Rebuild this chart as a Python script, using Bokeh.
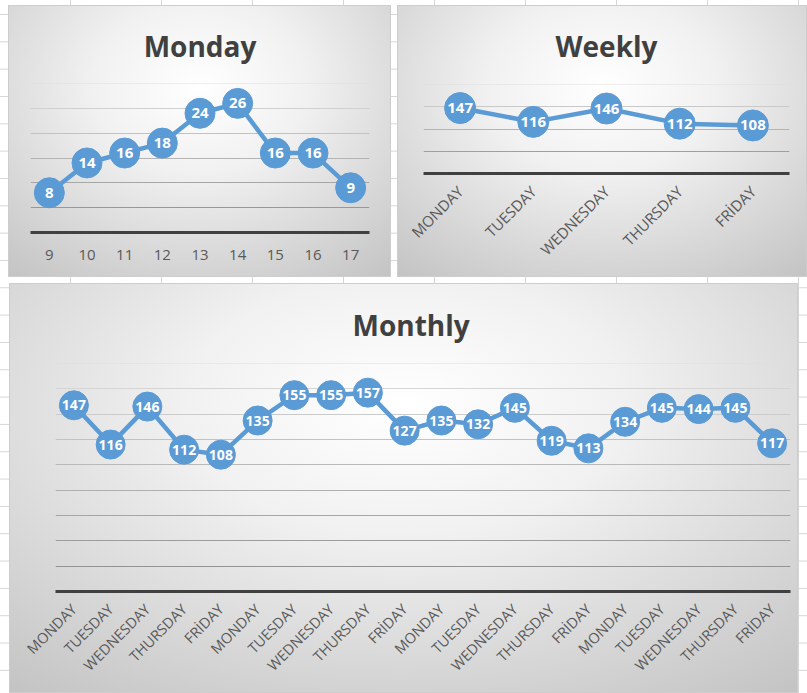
from bokeh.plotting import figure
from bokeh.layouts import column, row
from bokeh.models import Range1d, FixedTicker
from bokeh.embed import file_html
from bokeh.resources import INLINE
from bokeh.core.properties import value
import math

# ---- data -------------------------------------------------------------
hours = [9, 10, 11, 12, 13, 14, 15, 16, 17]
monday_counts = [8, 14, 16, 18, 24, 26, 16, 16, 9]

week_days = ["MONDAY", "TUESDAY", "WEDNESDAY", "THURSDAY", "FRİDAY"]
weekly_counts = [147, 116, 146, 112, 108]

monthly_days = week_days * 4
monthly_counts = [147, 116, 146, 112, 108, 135, 155, 155, 157, 127,
                  135, 132, 145, 119, 113, 134, 145, 144, 145, 117]

monday_grid = [5, 10, 15, 20, 25, 30]
weekly_grid = [50, 100, 150, 200]
monthly_grid = [20, 40, 60, 80, 100, 120, 140, 160, 180]

# ---- styling -----------------------------------------------------------
BLUE = "#5B9BD5"
FONT = "Open Sans"
PANEL_CSS = {
    "background": "radial-gradient(ellipse 80% 90% at 50% 30%, #ffffff 0%, "
                  "#f1f1f1 35%, #d8d8d8 70%, #c3c3c3 100%)",
    "box-shadow": "inset 0 0 0 1px #cdcdcd",
}


def gray(frac):
    dark, light = 0x8A, 0xDE
    g = int(round(dark + (light - dark) * frac))
    return "#%02x%02x%02x" % (g, g, g)


def panel(title, width, height, x_range, y_top, grid, borders, margin,
          title_standoff, title_align="center", title_offset=0):
    left, right, top, bottom = borders
    p = figure(width=width, height=height, x_range=x_range,
               y_range=Range1d(0, y_top), output_backend="svg",
               toolbar_location=None, min_border_left=left,
               min_border_right=right, min_border_top=top,
               min_border_bottom=bottom, margin=margin,
               border_fill_color=None, background_fill_color=None,
               outline_line_color=None, styles=PANEL_CSS)
    # each chart keeps its own frame instead of lining up with its neighbour
    if "frame_align" in p.properties():
        p.frame_align = False
    p.title.text = title
    p.title.align = title_align
    p.title.text_font = FONT
    p.title.text_font_style = "bold"
    p.title.text_font_size = "28px"
    p.title.text_color = "#404040"
    p.title.standoff = title_standoff
    p.title.offset = title_offset
    p.xgrid.visible = False
    p.ygrid.visible = False
    p.yaxis.visible = False
    p.hspan(y=grid, line_width=1,
            line_color=[gray(v / y_top) for v in grid])
    ax = p.xaxis[0]
    ax.axis_line_width = 3
    ax.axis_line_color = "#404040"
    ax.major_tick_line_color = None
    ax.minor_tick_line_color = None
    ax.major_label_text_font = FONT
    ax.major_label_text_color = "#595959"
    return p


def series(p, xs, ys, size, font_size):
    p.line(xs, ys, line_width=4.5, line_color=BLUE)
    p.scatter(xs, ys, size=size, fill_color=BLUE, line_color=BLUE)
    p.text(xs, ys, text=[str(v) for v in ys], text_color="white",
           text_font=value(FONT), text_font_style="bold",
           text_font_size=font_size, text_align="center",
           text_baseline="middle")


# ---- Monday: hourly counts ---------------------------------------------
p1 = panel("Monday", 383, 272, Range1d(hours[0] - 0.5, hours[-1] + 0.5),
           30, monday_grid, (22, 22, 78, 45), (5, 0, 0, 8), 38)
p1.xaxis.ticker = FixedTicker(ticks=hours)
p1.xaxis.major_label_text_font_size = "15px"
p1.xaxis.major_label_standoff = 11
series(p1, hours, monday_counts, 30, "15px")

# ---- Weekly: daily totals ----------------------------------------------
wx = list(range(len(week_days)))
p2 = panel("Weekly", 410, 272, Range1d(-0.5, len(week_days) - 0.5),
           200, weekly_grid, (26, 18, 79, 104), (5, 0, 0, 6), 39)
p2.xaxis.ticker = FixedTicker(ticks=wx)
p2.xaxis.major_label_overrides = {i: d for i, d in zip(wx, week_days)}
p2.xaxis.major_label_orientation = math.pi / 4
p2.xaxis.major_label_text_font_size = "15px"
p2.xaxis.major_label_standoff = 9
series(p2, wx, weekly_counts, 31, "15px")

# ---- Monthly: daily totals over four weeks -----------------------------
mx = list(range(len(monthly_days)))
p3 = panel("Monthly", 789, 410, Range1d(-0.5, len(monthly_days) - 0.5),
           180, monthly_grid, (46, 8, 80, 102), (6, 0, 0, 9), 40,
           title_align="left", title_offset=297)
p3.xaxis.ticker = FixedTicker(ticks=mx)
p3.xaxis.major_label_overrides = {i: d for i, d in zip(mx, monthly_days)}
p3.xaxis.major_label_orientation = math.pi / 4
p3.xaxis.major_label_text_font_size = "14.5px"
p3.xaxis.major_label_standoff = 9
series(p3, mx, monthly_counts, 29, "14px")

# ---- sheet ---------------------------------------------------------------
sheet = column(row(p1, p2), p3, styles={
    "background-color": "#ffffff",
    "background-image": "linear-gradient(to right, #d6d6d6 1px, transparent 1px), "
                        "linear-gradient(to bottom, #d6d6d6 1px, transparent 1px)",
    "background-size": "91px 27.33px",
    "background-position": "70px 14px",
})

open("out.html", "w").write(file_html(sheet, INLINE))
